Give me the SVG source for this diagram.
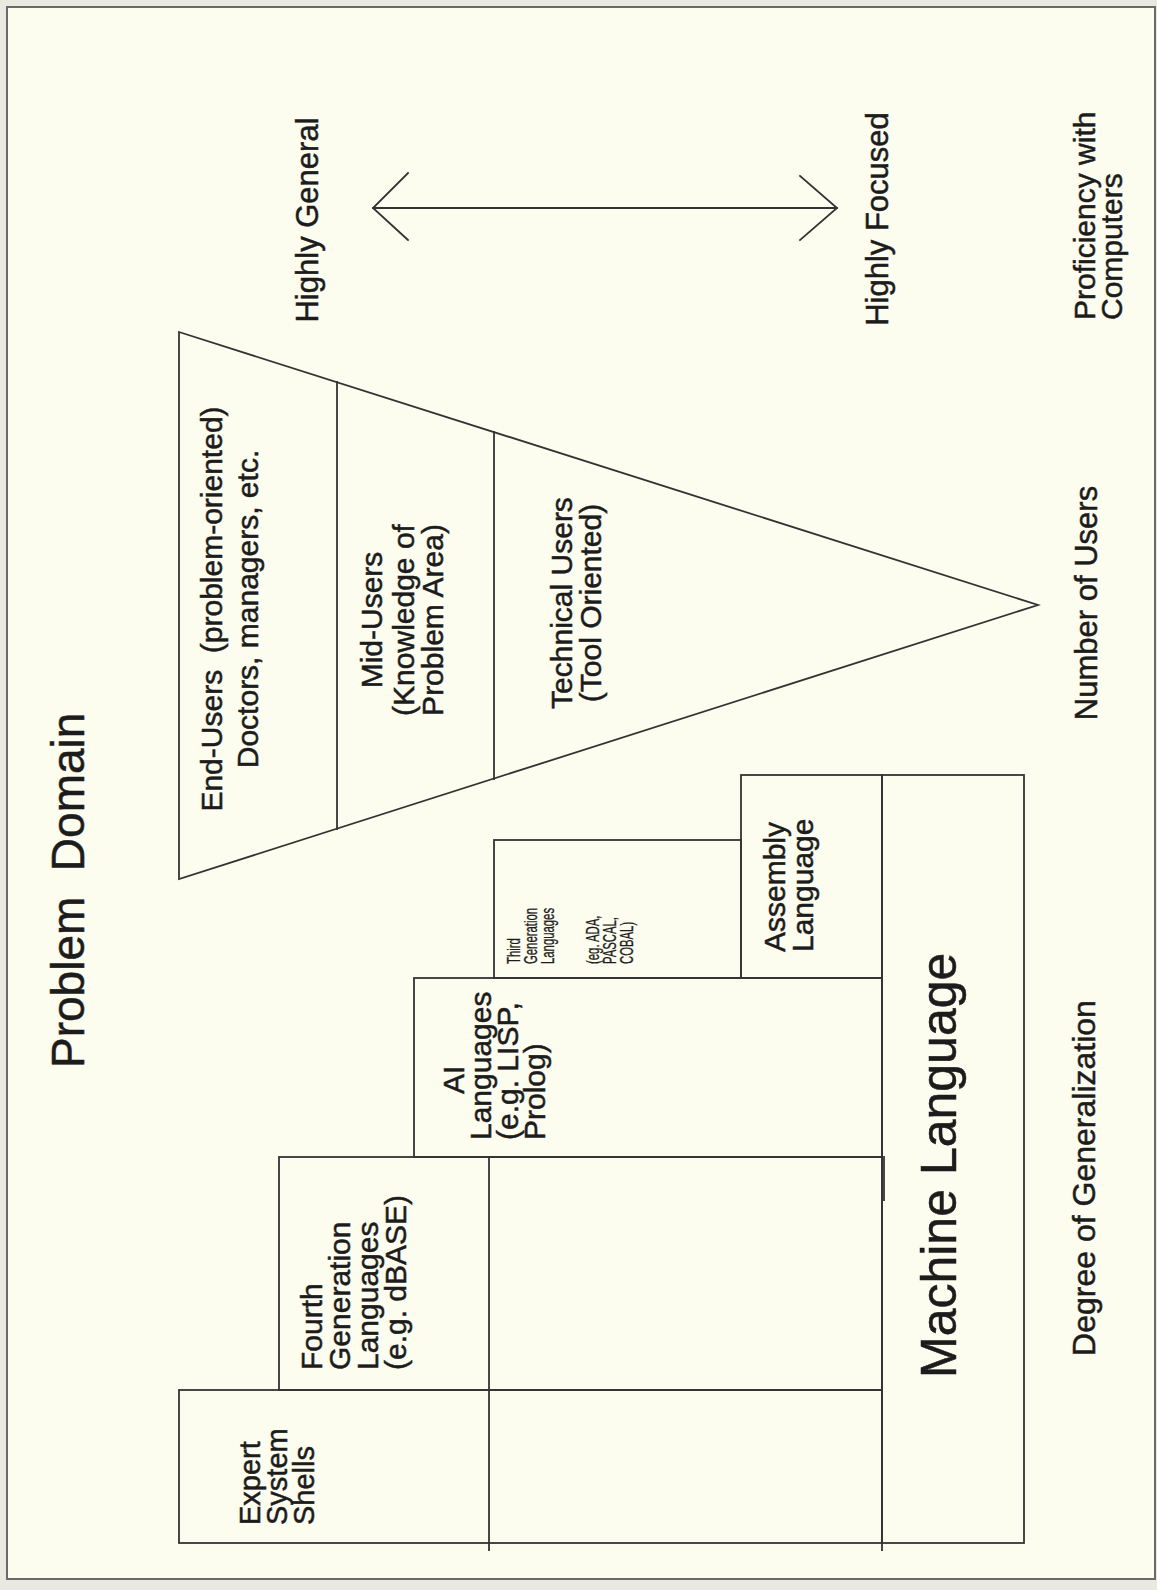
<svg xmlns="http://www.w3.org/2000/svg" width="1157" height="1590" viewBox="0 0 1157 1590">
  <defs>
    <style>
      .bg { fill: #fcfcef; }
      .outer { fill: #e9e9e2; }
      .frame { fill: none; stroke: #6a6a6a; stroke-width: 2; }
      .ln { fill: none; stroke: #333333; stroke-width: 1.8; stroke-linecap: square; stroke-linejoin: miter; }
      text { font-family: "Liberation Sans", Arial, Helvetica, sans-serif; fill: #1c1c1c; stroke: #1c1c1c; stroke-width: 0.5; }
      .lbl { font-size: 30px; }
      .axis { font-size: 31px; }
      .big { font-size: 50px; }
      .head { font-size: 46px; }
      .tiny { font-size: 18px; stroke-width: 0.3; }
    </style>
  </defs>

  <!-- paper -->
  <rect class="outer" x="0" y="0" width="1157" height="1590"/>
  <rect class="bg" x="7" y="7" width="1148" height="1572"/>
  <rect class="frame" x="7" y="7" width="1148" height="1572"/>

  <!-- heading -->
  <g id="heading">
    <text class="head" transform="translate(84,1068) rotate(-90)" xml:space="preserve">Problem  Domain</text>
  </g>

  <!-- user pyramid outline -->
  <g id="pyramid">
    <path class="ln" d="M179,332 L1038,605 L179,879 Z"/>
    <line class="ln" x1="337" y1="382" x2="337" y2="829"/>
    <line class="ln" x1="494" y1="432" x2="494" y2="779"/>
  </g>

  <g id="end-users">
    <text class="lbl" text-anchor="middle" transform="translate(222,609) rotate(-90)"><tspan x="0" xml:space="preserve">End-Users  (problem-oriented)</tspan><tspan x="0" dy="36">Doctors, managers, etc.</tspan></text>
  </g>

  <g id="mid-users">
    <text class="lbl" text-anchor="middle" transform="translate(382,620) rotate(-90)"><tspan x="0">Mid-Users</tspan><tspan x="0" dy="32">(Knowledge of</tspan><tspan x="0" dy="29">Problem Area)</tspan></text>
  </g>

  <g id="technical-users">
    <text class="lbl" text-anchor="middle" transform="translate(572,603) rotate(-90)"><tspan x="0">Technical Users</tspan><tspan x="0" dy="29">(Tool Oriented)</tspan></text>
  </g>

  <!-- axis labels -->
  <g id="highly-general">
    <text class="axis" text-anchor="middle" transform="translate(318,220) rotate(-90)">Highly General</text>
  </g>
  <g id="highly-focused">
    <text class="axis" text-anchor="middle" transform="translate(888,219) rotate(-90)">Highly Focused</text>
  </g>
  <g id="proficiency">
    <text class="lbl" transform="translate(1095,320) rotate(-90)"><tspan x="0">Proficiency with</tspan><tspan x="0" dy="27">Computers</tspan></text>
  </g>
  <g id="number-of-users">
    <text class="axis" text-anchor="middle" transform="translate(1097,603) rotate(-90)">Number of Users</text>
  </g>
  <g id="degree-of-generalization">
    <text class="axis" text-anchor="middle" style="font-size:32px" transform="translate(1095,1178) rotate(-90)">Degree of Generalization</text>
  </g>

  <!-- language stack -->
  <g id="machine-language">
    <rect class="ln" x="882" y="775" width="142" height="768"/>
    <line class="ln" x1="882" y1="1543" x2="882" y2="1550"/>
    <line class="ln" x1="884" y1="1157" x2="884" y2="1200"/>
    <text class="big" transform="translate(956,1378) rotate(-90)">Machine Language</text>
  </g>

  <g id="assembly-language">
    <rect class="ln" x="741" y="775" width="141" height="203"/>
    <text class="lbl" transform="translate(785,952) rotate(-90)"><tspan x="0">Assembly</tspan><tspan x="0" dy="28">Language</tspan></text>
  </g>

  <g id="third-generation">
    <rect class="ln" x="494" y="840" width="247" height="138"/>
    <text class="tiny" transform="translate(520,964) rotate(-90) scale(0.63,1)"><tspan x="0">Third</tspan><tspan x="0" dy="17">Generation</tspan><tspan x="0" dy="17">Languages</tspan><tspan x="0" dy="45">(eg. ADA,</tspan><tspan x="0" dy="17">PASCAL,</tspan><tspan x="0" dy="17">COBAL)</tspan></text>
  </g>

  <g id="ai-languages">
    <rect class="ln" x="414" y="978" width="468" height="179"/>
    <text class="lbl" transform="translate(464,1094) rotate(-90)">AI</text>
    <text class="lbl" transform="translate(491,1140) rotate(-90)"><tspan x="0">Languages</tspan><tspan x="0" dy="27">(e.g. LISP,</tspan><tspan x="0" dy="27">Prolog)</tspan></text>
  </g>

  <g id="fourth-generation">
    <rect class="ln" x="279" y="1157" width="603" height="233"/>
    <line class="ln" x1="489" y1="1157" x2="489" y2="1550"/>
    <text class="lbl" transform="translate(322,1370) rotate(-90)"><tspan x="0">Fourth</tspan><tspan x="0" dy="28">Generation</tspan><tspan x="0" dy="28">Languages</tspan><tspan x="0" dy="28">(e.g. dBASE)</tspan></text>
  </g>

  <g id="expert-system-shells">
    <rect class="ln" x="179" y="1390" width="703" height="153"/>
    <text class="lbl" style="font-size:29px" transform="translate(260,1525) rotate(-90)"><tspan x="0">Expert</tspan><tspan x="0" dy="27">System</tspan><tspan x="0" dy="27">Shells</tspan></text>
  </g>

  <!-- general / focused range arrow -->
  <g id="connectors">
    <path class="ln" d="M373,208 H837 M408,173 L373,208 L408,240 M800,176 L837,208 L800,240"/>
  </g>
</svg>
